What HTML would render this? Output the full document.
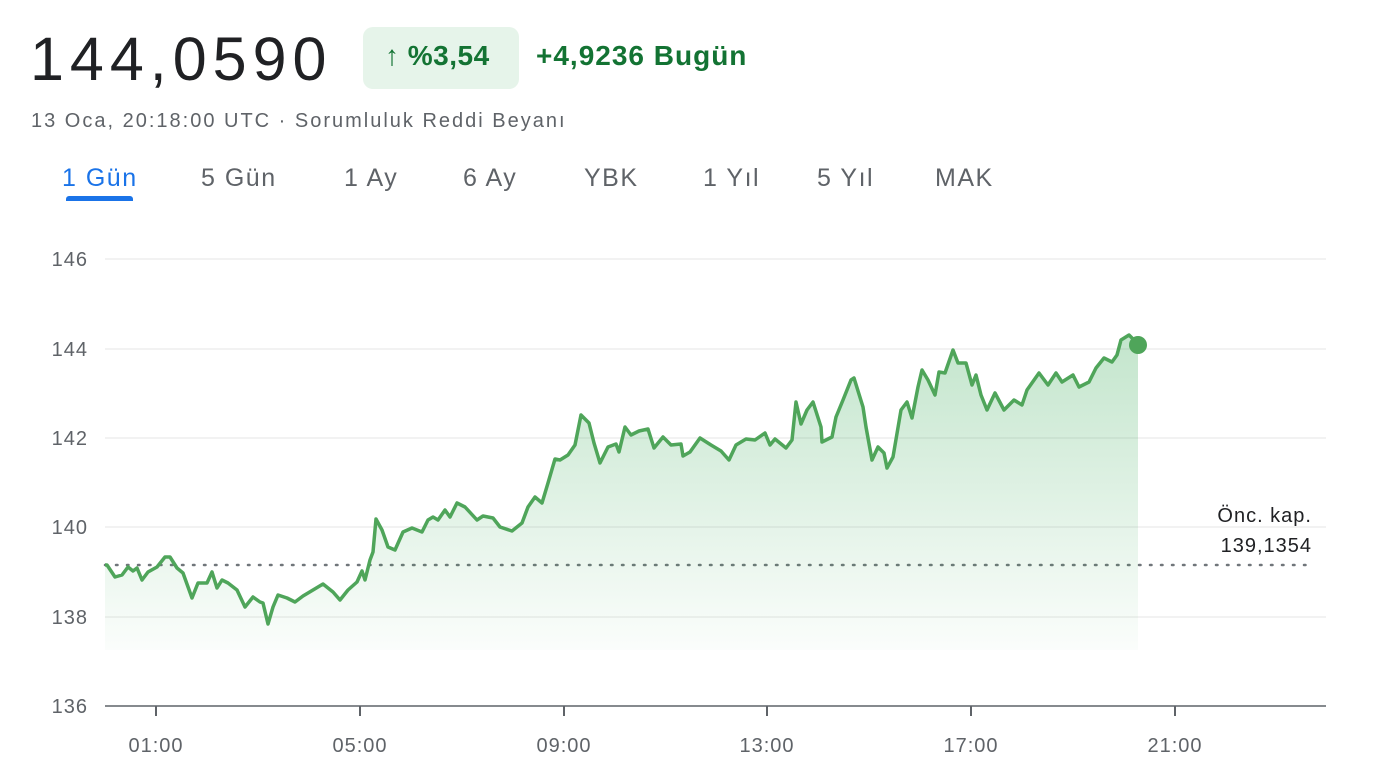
<!DOCTYPE html><html><head><meta charset="utf-8"><style>
body{margin:0;background:#fff;font-family:"Liberation Sans",sans-serif;width:1396px;height:778px;overflow:hidden;position:relative}
.a{position:absolute;white-space:nowrap}
.t{font-size:25px;color:#5f6368;letter-spacing:1.5px;top:164px}
</style></head><body>
<div class="a" style="left:30px;top:24px;font-size:61px;color:#202124;letter-spacing:6px">144,0590</div>
<div class="a" style="left:363px;top:27px;width:156px;height:62px;background:#e6f4ea;border-radius:10px"></div>
<div class="a" style="left:385px;top:40px;font-size:28px;color:#137333;font-weight:bold;letter-spacing:0.5px">↑ %3,54</div>
<div class="a" style="left:536px;top:40px;font-size:28px;color:#137333;font-weight:bold;letter-spacing:1px">+4,9236 Bugün</div>
<div class="a" style="left:31px;top:110px;font-size:20px;color:#5f6368;letter-spacing:2px">13 Oca, 20:18:00 UTC · Sorumluluk Reddi Beyanı</div>
<div class="a t" style="left:62px;color:#1a73e8">1 Gün</div>
<div class="a" style="left:66px;top:196px;width:67px;height:5px;background:#1a73e8;border-radius:3px 3px 0 0"></div>
<div class="a t" style="left:201px">5 Gün</div>
<div class="a t" style="left:344px">1 Ay</div>
<div class="a t" style="left:463px">6 Ay</div>
<div class="a t" style="left:584px">YBK</div>
<div class="a t" style="left:703px">1 Yıl</div>
<div class="a t" style="left:817px">5 Yıl</div>
<div class="a t" style="left:935px">MAK</div>
<svg class="a" style="left:0;top:0" width="1396" height="778">
<defs><linearGradient id="g" x1="0" y1="330" x2="0" y2="650" gradientUnits="userSpaceOnUse"><stop offset="0" stop-color="#34a853" stop-opacity="0.3"/><stop offset="1" stop-color="#34a853" stop-opacity="0.02"/></linearGradient></defs>
<g stroke="#eeeeee" stroke-width="1.5"><line x1="105" y1="259" x2="1326" y2="259"/><line x1="105" y1="349" x2="1326" y2="349"/><line x1="105" y1="438" x2="1326" y2="438"/><line x1="105" y1="527" x2="1326" y2="527"/><line x1="105" y1="617" x2="1326" y2="617"/></g>
<g font-size="20" fill="#5f6368" text-anchor="end" letter-spacing="1"><text x="88" y="266">146</text><text x="88" y="356">144</text><text x="88" y="445">142</text><text x="88" y="534">140</text><text x="88" y="624">138</text><text x="88" y="713">136</text></g>
<line x1="105" y1="565" x2="1315" y2="565" stroke="#70757a" stroke-width="2.5" stroke-dasharray="1.5 9.5" stroke-linecap="round"/>
<polygon fill="url(#g)" points="105,565 107,565 115,577 122,575 128,567 133,571 137,568 142,580 148,572 157,567 165,557 170,557 177,568 183,573 192,598 198,583 207,583 212,572 217,588 222,580 228,583 237,590 245,607 253,597 260,602 263,603 268,624 273,607 278,595 287,598 295,602 303,596 313,590 323,584 333,592 340,600 348,590 357,582 362,571 365,580 370,560 373,552 376,519 382,530 388,547 395,550 403,532 412,528 422,532 428,520 433,517 438,520 445,510 450,517 457,503 465,507 477,520 483,516 493,518 500,527 512,531 522,523 528,507 535,497 542,503 548,483 555,459 560,460 568,455 575,445 581,415 589,423 594,443 600,463 608,447 616,444 619,452 625,427 631,435 639,431 648,429 654,448 663,437 671,445 681,444 683,456 690,452 700,438 711,445 721,451 729,460 736,445 746,439 755,440 765,433 770,445 775,439 786,448 792,440 796,402 801,424 807,410 813,402 821,427 822,442 832,437 836,417 843,400 851,380 854,378 863,407 866,427 872,460 878,447 884,453 887,468 893,457 901,410 907,402 912,418 918,387 922,370 928,380 935,395 939,372 945,373 953,350 958,363 966,363 972,385 976,375 981,395 987,410 995,393 1004,410 1014,400 1022,405 1027,390 1039,373 1048,385 1056,373 1062,382 1073,375 1079,387 1089,382 1096,368 1104,358 1112,362 1117,355 1121,340 1129,335 1138,344 1138,650 105,650"/>
<polyline fill="none" stroke="#4fa55a" stroke-width="3.5" stroke-linejoin="round" points="105,565 107,565 115,577 122,575 128,567 133,571 137,568 142,580 148,572 157,567 165,557 170,557 177,568 183,573 192,598 198,583 207,583 212,572 217,588 222,580 228,583 237,590 245,607 253,597 260,602 263,603 268,624 273,607 278,595 287,598 295,602 303,596 313,590 323,584 333,592 340,600 348,590 357,582 362,571 365,580 370,560 373,552 376,519 382,530 388,547 395,550 403,532 412,528 422,532 428,520 433,517 438,520 445,510 450,517 457,503 465,507 477,520 483,516 493,518 500,527 512,531 522,523 528,507 535,497 542,503 548,483 555,459 560,460 568,455 575,445 581,415 589,423 594,443 600,463 608,447 616,444 619,452 625,427 631,435 639,431 648,429 654,448 663,437 671,445 681,444 683,456 690,452 700,438 711,445 721,451 729,460 736,445 746,439 755,440 765,433 770,445 775,439 786,448 792,440 796,402 801,424 807,410 813,402 821,427 822,442 832,437 836,417 843,400 851,380 854,378 863,407 866,427 872,460 878,447 884,453 887,468 893,457 901,410 907,402 912,418 918,387 922,370 928,380 935,395 939,372 945,373 953,350 958,363 966,363 972,385 976,375 981,395 987,410 995,393 1004,410 1014,400 1022,405 1027,390 1039,373 1048,385 1056,373 1062,382 1073,375 1079,387 1089,382 1096,368 1104,358 1112,362 1117,355 1121,340 1129,335 1138,344"/>
<circle cx="1138" cy="345" r="9" fill="#4fa55a"/>
<g font-size="20" fill="#202124" text-anchor="end" letter-spacing="1"><text x="1312" y="522">Önc. kap.</text><text x="1312" y="552">139,1354</text></g>
<line x1="105" y1="706" x2="1326" y2="706" stroke="#5f6368" stroke-width="1.5"/>
<g stroke="#5f6368" stroke-width="2"><line x1="156" y1="706" x2="156" y2="716"/><line x1="360" y1="706" x2="360" y2="716"/><line x1="564" y1="706" x2="564" y2="716"/><line x1="767" y1="706" x2="767" y2="716"/><line x1="971" y1="706" x2="971" y2="716"/><line x1="1175" y1="706" x2="1175" y2="716"/></g>
<g font-size="20" fill="#5f6368" text-anchor="middle" letter-spacing="1"><text x="156" y="752">01:00</text><text x="360" y="752">05:00</text><text x="564" y="752">09:00</text><text x="767" y="752">13:00</text><text x="971" y="752">17:00</text><text x="1175" y="752">21:00</text></g>
</svg>
</body></html>
